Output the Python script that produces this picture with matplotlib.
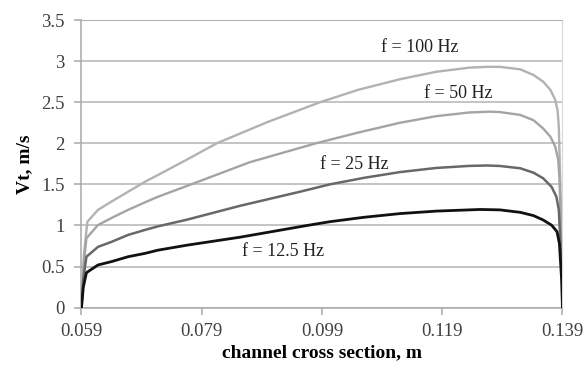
import matplotlib.pyplot as plt

# velocity profiles across the channel for four excitation frequencies
x_100 = [0.059, 0.0594, 0.05998, 0.06175, 0.06396, 0.06674, 0.06951, 0.07173, 0.0765,
         0.0815, 0.090, 0.0987, 0.105, 0.112, 0.118, 0.1235, 0.1265, 0.1286, 0.1320,
         0.1342, 0.1358, 0.1370, 0.1378, 0.1382, 0.1384, 0.1385, 0.1389, 0.139]
v_100 = [0, 0.65, 1.046, 1.19, 1.29, 1.41, 1.53, 1.615, 1.80,
         2.00, 2.26, 2.50, 2.65, 2.78, 2.87, 2.92, 2.93, 2.93, 2.90,
         2.83, 2.75, 2.65, 2.53, 2.40, 2.20, 1.92, 0.80, 0]

x_50 = [0.059, 0.0594, 0.05982, 0.06175, 0.06396, 0.06674, 0.06951, 0.07173, 0.0765,
        0.087, 0.098, 0.105, 0.112, 0.118, 0.1235, 0.127, 0.1286, 0.1320, 0.1342,
        0.1358, 0.1370, 0.1378, 0.1383, 0.1385, 0.1389, 0.139]
v_50 = [0, 0.55, 0.845, 1.006, 1.09, 1.19, 1.28, 1.35, 1.48,
        1.77, 2.00, 2.13, 2.25, 2.33, 2.375, 2.385, 2.38, 2.345, 2.28,
        2.18, 2.08, 1.96, 1.80, 1.59, 0.60, 0]

x_25 = [0.059, 0.0593, 0.05982, 0.06175, 0.06396, 0.06674, 0.06951, 0.07173, 0.0765,
        0.0854, 0.0953, 0.1003, 0.106, 0.112, 0.118, 0.1235, 0.1265, 0.1286, 0.1320,
        0.1342, 0.1358, 0.1372, 0.1380, 0.1384, 0.1388, 0.139]
v_25 = [0, 0.35, 0.62, 0.74, 0.80, 0.885, 0.945, 0.99, 1.07,
        1.24, 1.41, 1.50, 1.58, 1.65, 1.70, 1.725, 1.73, 1.724, 1.696,
        1.642, 1.574, 1.47, 1.35, 1.19, 0.60, 0]

x_12 = [0.059, 0.0593, 0.05982, 0.06175, 0.06396, 0.06674, 0.06951, 0.07173, 0.0765,
        0.0854, 0.0965, 0.1003, 0.106, 0.112, 0.118, 0.1235, 0.1253, 0.1286, 0.1320,
        0.1342, 0.1358, 0.1372, 0.1381, 0.1385, 0.1389, 0.139]
v_12 = [0, 0.25, 0.426, 0.52, 0.56, 0.62, 0.66, 0.70, 0.76,
        0.858, 1.00, 1.046, 1.10, 1.145, 1.175, 1.19, 1.195, 1.19, 1.16,
        1.12, 1.067, 1.004, 0.925, 0.78, 0.30, 0]

x_ticks = [0.059, 0.079, 0.099, 0.119, 0.139]
y_ticks = [0, 0.5, 1, 1.5, 2, 2.5, 3, 3.5]

plt.rcParams['font.family'] = ['Liberation Serif', 'DejaVu Serif']

fig = plt.figure(figsize=(5.88, 3.67), dpi=100)
ax = fig.add_axes([0.1386, 0.1616, 0.8179, 0.7839])

ax.plot(x_100, v_100, color='#b2b2b2', lw=1.7, zorder=3)
ax.plot(x_50, v_50, color='#a4a4a4', lw=1.7, zorder=3)
ax.plot(x_25, v_25, color='#686868', lw=1.8, zorder=3)
ax.plot(x_12, v_12, color='#111111', lw=2.0, zorder=4)

ax.set_xlim(0.059, 0.139)
ax.set_ylim(0, 3.5)
ax.set_xticks(x_ticks)
ax.set_xticklabels(['%.3f' % t for t in x_ticks])
ax.set_yticks(y_ticks)
ax.set_yticklabels(['%g' % t for t in y_ticks])

ax.grid(axis='y', color='#b4b4b4', lw=1.1, zorder=1)
for side in ['left', 'bottom']:
    ax.spines[side].set_color('#a8a8a8')
    ax.spines[side].set_linewidth(1.1)
ax.spines['top'].set_color('#b4b4b4')
ax.spines['right'].set_color('#d8d8d8')
ax.tick_params(axis='both', colors='#a8a8a8', labelcolor='#404040',
               labelsize=13.5, length=5, width=1.1)
ax.tick_params(axis='y', pad=7)
ax.tick_params(axis='x', pad=6)

ax.set_xlabel('channel cross section, m', fontsize=14, fontweight='bold', labelpad=3)
ax.set_ylabel('Vt, m/s', fontsize=14, fontweight='bold', labelpad=6)

ax.text(0.1153, 3.16, 'f = 100 Hz', fontsize=13, ha='center', va='center', color='#222222')
ax.text(0.1216, 2.61, 'f = 50 Hz', fontsize=13, ha='center', va='center', color='#222222')
ax.text(0.1044, 1.745, 'f = 25 Hz', fontsize=13, ha='center', va='center', color='#222222')
ax.text(0.0925, 0.68, 'f = 12.5 Hz', fontsize=13, ha='center', va='center', color='#222222')

fig.savefig('out.png', dpi=100)
